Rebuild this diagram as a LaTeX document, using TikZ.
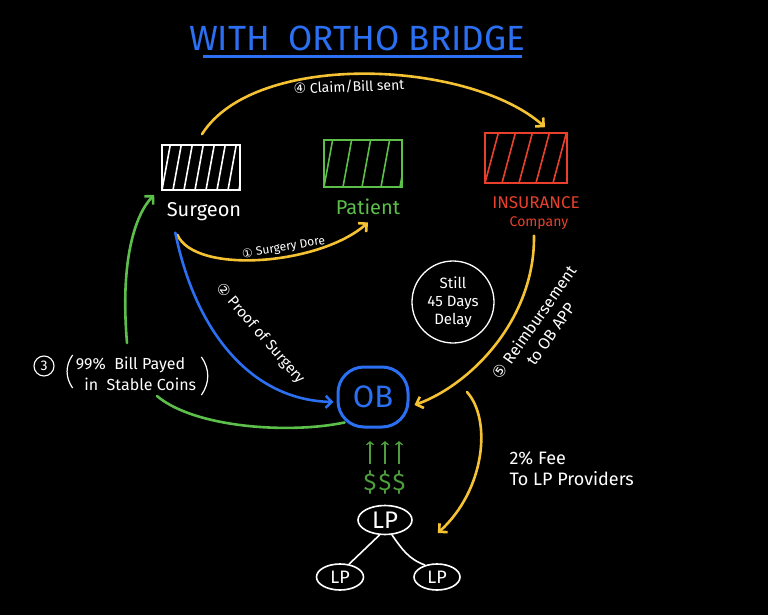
\documentclass[tikz,border=0pt]{standalone}
\usepackage{fontspec}
\setmainfont{Fira Sans}
\newfontfamily\dejavu{DejaVu Sans}
\usetikzlibrary{arrows.meta,shapes.geometric}
\definecolor{obblue}{HTML}{2B6FF2}
\definecolor{ylw}{HTML}{F4C232}
\definecolor{grn}{HTML}{5CBF4A}
\definecolor{dgrn}{HTML}{4E9E3E}
\definecolor{rd}{HTML}{E8402C}
\begin{document}
\begin{tikzpicture}[x=1pt,y=-1pt,
  hatchbox/.style n args={4}{draw=#4, line width=1.6pt, minimum width=78, minimum height=45,
    path picture={\foreach \k in {-3,...,12}{\draw[#4,line width=1.6pt] ([xshift=\k*#1pt]path picture bounding box.south west) -- ++(#2pt,60pt);}}},
  arr/.style={-{Straight Barb[length=6pt,width=12pt]}, line width=2.6pt, line cap=round},
  flab/.style={font=\fontsize{#1}{#1}\selectfont, inner sep=1pt}
]
\fill[black] (0,0) rectangle (768,615);
\useasboundingbox (0,0) rectangle (768,615);

% title
\node[text=obblue, font=\fontsize{35}{35}\selectfont] (title) at (357,38) {WITH\ \ ORTHO BRIDGE};
\draw[obblue, line width=3pt] ([yshift=-19pt]title.west -| 203,0) coordinate (ul1) -- (ul1 -| 522,0);

% boxes
\node[hatchbox={11}{11}{}{white}] (sbox) at (201,167.5) {};
\node[hatchbox={19}{11}{}{grn}, minimum height=47] (pbox) at (363,163.5) {};
\node[hatchbox={17}{16}{}{rd}, minimum width=82, minimum height=50] (ibox) at (526,158) {};

% labels
\node[text=white, font=\fontsize{20}{20}\selectfont] (slabel) at (204,212) {Surgeon};
\node[text=grn, font=\fontsize{20}{20}\selectfont] (plabel) at (368,207) {Patient};
\node[text=rd, font=\fontsize{17}{17}\selectfont, inner sep=1pt] (ilabel) at (536,203) {INSURANCE};
\node[text=rd, font=\fontsize{14}{14}\selectfont, inner sep=1pt] (clabel) at (539,223) {Company};

% OB
\node[draw=obblue, line width=3pt, rounded corners=26pt, minimum width=70, minimum height=60,
      text=obblue, font=\fontsize{31}{31}\selectfont] (ob) at (373,397) {OB};

% delay circle
\node[draw=white, line width=1.3pt, circle, minimum size=82, inner sep=0pt, align=center, text=white,
      font=\fontsize{15}{18}\selectfont] (delay) at (453,302) {Still\\45 Days\\Delay};

% coins label
\node[text=white, align=left, font=\fontsize{16}{21}\selectfont, inner sep=2pt] (coins) at (136,374) {99\%\ \ Bill Payed\\\ \ in\ \ Stable Coins};
\draw[white, line width=1.2pt] ([xshift=-1pt,yshift=0pt]coins.north west) to[bend right=35] ([xshift=-1pt,yshift=5pt]coins.south west);
\draw[white, line width=1.2pt] ([xshift=3pt,yshift=-2pt]coins.north east) to[bend left=35] ([xshift=3pt,yshift=-2pt]coins.south east);
\node[draw=white, line width=1.1pt, circle, minimum size=20, inner sep=0pt, text=white, font=\fontsize{14}{14}\selectfont] (n3) at (44,366) {3};

% LP nodes
\node[draw=white, line width=1.6pt, ellipse, minimum width=54, minimum height=29, inner sep=0pt,
      text=white, font=\fontsize{24}{24}\selectfont] (lp) at (385,520) {LP};
\node[draw=white, line width=1.6pt, ellipse, minimum width=47, minimum height=26, inner sep=0pt,
      text=white, font=\fontsize{18}{18}\selectfont] (lpl) at (340,577) {LP};
\node[draw=white, line width=1.6pt, ellipse, minimum width=46, minimum height=26, inner sep=0pt,
      text=white, font=\fontsize{18}{18}\selectfont] (lpr) at (437,577) {LP};
\draw[white, line width=1.6pt] (lp.250) -- (lpl.55);
\draw[white, line width=1.6pt] (lp.295) to[out=-55,in=160] (lpr.135);

% dollars
\foreach \i/\x in {1/370,2/385,3/399}{
  \node[text=dgrn, font=\fontsize{24}{24}\selectfont, inner sep=0pt] (d\i) at (\x,482) {\$};
  \draw[dgrn, line width=1.3pt, -{Straight Barb[length=3pt,width=7pt]}] ([yshift=6pt]d\i.north) -- ++(0pt,23pt);
}

% fee text
\node[text=white, align=left, anchor=west, font=\fontsize{18}{21}\selectfont] (fee) at (506,469) {2\% Fee\\To LP Providers};

% arrows
\draw[arr, ylw] ([xshift=1pt,yshift=10pt]sbox.north) .. controls (255,50) and (470,60) .. ([xshift=19pt,yshift=5pt]ibox.north)
  node[pos=0.46, below=4pt, sloped, text=white, flab=14] (claim) {{\dejavu ④} Claim/Bill sent};
\draw[arr, ylw] ([xshift=14pt,yshift=-10pt]slabel.south west) .. controls (195,275) and (320,265) .. ([yshift=-4pt]plabel.south)
  node[pos=0.6, above=1pt, sloped, text=white, flab=12] (done) {{\dejavu ①} Surgery Dore};
\draw[arr, obblue] ([xshift=12pt,yshift=-8pt]slabel.south west) .. controls (195,330) and (250,400) .. ([xshift=-3pt,yshift=-5pt]ob.west);
\node[text=white, rotate=-49, flab=15] (proof) at (260,334) {{\dejavu ②} Proof of Surgery};
\draw[arr, ylw] ([xshift=-5pt,yshift=-5pt]clabel.south) .. controls (535,320) and (470,385) .. ([xshift=5pt,yshift=-8pt]ob.east);
\node[text=white, rotate=55, align=center, font=\fontsize{16}{20}\selectfont] (reimb) at (542,328) {{\dejavu ⑤} Reimbursement\\to OB APP};
\draw[grn, line width=2.6pt, line cap=round] ([xshift=8pt,yshift=6pt]ob.south west) .. controls (290,434) and (195,428) .. ([xshift=21pt,yshift=-3pt]coins.south);
\draw[arr, grn] ([xshift=-9pt,yshift=12pt]coins.north) .. controls (120,260) and (135,215) .. ([xshift=-7pt,yshift=-4pt]sbox.south west);
\coordinate (feestart) at (467,392);
\draw[arr, ylw] (feestart) .. controls (492,420) and (485,490) .. ([xshift=25pt,yshift=-13pt]lp.east);
\end{tikzpicture}
\end{document}
